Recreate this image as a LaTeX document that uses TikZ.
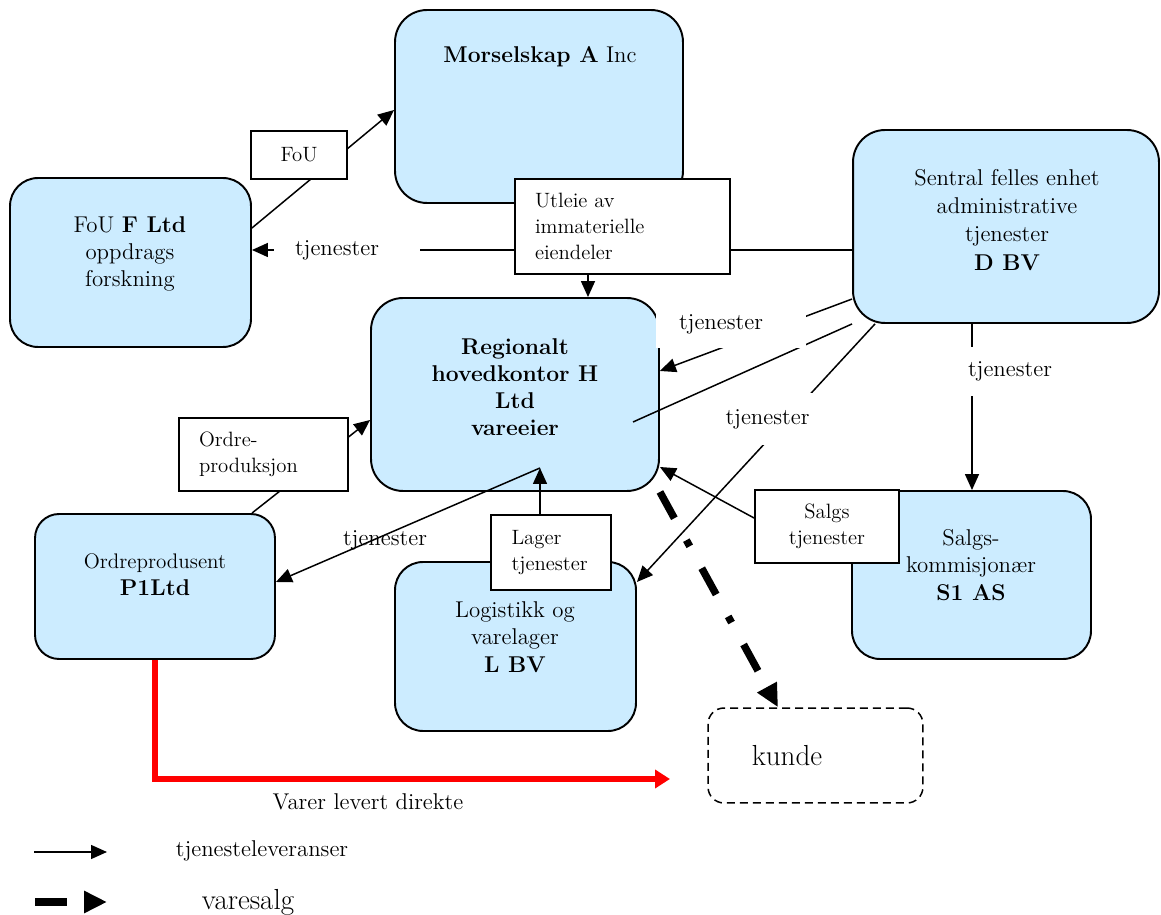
\documentclass[tikz,border=0pt]{standalone}
\usetikzlibrary{arrows.meta}
\definecolor{boxblue}{RGB}{204,236,255}
\pgfdeclarelayer{back}
\pgfdeclarelayer{mid}
\pgfsetlayers{back,mid,main}
\begin{document}
\begin{tikzpicture}[x=0.02cm,y=-0.02cm,
  org/.style={draw, fill=boxblue, line width=1.1pt, inner sep=0pt},
  lblbox/.style={draw, fill=white, line width=1.1pt, inner sep=0pt},
  bigfont/.style={font=\fontsize{13}{15.5}\selectfont},
  smallfont/.style={font=\fontsize{11.8}{14.8}\selectfont},
  hugefont/.style={font=\fontsize{16.5}{19}\selectfont},
  txt/.style={align=center, inner sep=0pt, bigfont},
  conn/.style={line width=0.85pt, -{Triangle[length=0.32cm,width=0.28cm]}},
  link/.style={line width=0.85pt},
  cutout/.style={fill=white, inner sep=0pt, bigfont},
  redarrow/.style={draw=red, line width=3pt, -{Triangle[length=0.3cm,width=0.36cm]}},
  sale/.style={line width=4.2pt, dash pattern=on 0.6cm off 0.5cm on 0.14cm off 0.5cm,
    -{Triangle[length=0.46cm,width=0.42cm]}},
  salelegend/.style={line width=4.5pt, dash pattern=on 0.64cm off 2cm,
    -{Triangle[length=0.46cm,width=0.42cm]}},
]
\useasboundingbox (0,0) rectangle (1161,915);

% organisation boxes
\begin{pgfonlayer}{back}
\node[org, rounded corners=0.56cm, minimum width=4.82cm, minimum height=3.38cm] (fouf) at (130.5,262.5) {};
\node[org, rounded corners=0.64cm, minimum width=5.76cm, minimum height=3.86cm] (mors) at (539,106.5) {};
\node[org, rounded corners=0.64cm, minimum width=5.76cm, minimum height=3.86cm] (H) at (515,394.5) {};
\node[org, rounded corners=0.64cm, minimum width=6.12cm, minimum height=3.86cm] (dbv) at (1006,226.5) {};
\node[org, rounded corners=0.48cm, minimum width=4.8cm, minimum height=2.9cm] (p1) at (155,586.5) {};
\node[org, rounded corners=0.56cm, minimum width=4.82cm, minimum height=3.38cm] (lbv) at (515.5,646.5) {};
\node[org, rounded corners=0.56cm, minimum width=4.78cm, minimum height=3.36cm] (s1) at (971.5,575) {};
\node[draw, dash pattern=on 0.16cm off 0.1cm, line width=0.85pt, rounded corners=0.32cm,
  minimum width=4.3cm, minimum height=1.9cm, inner sep=0pt] (kunde) at (815.5,755.5) {};
\end{pgfonlayer}

% label boxes
\node[lblbox, smallfont, minimum width=1.92cm, minimum height=0.96cm] (foulbl) at (299,155) {FoU};
\node[lblbox, smallfont, minimum width=4.3cm, minimum height=1.9cm, text width=3.5cm, align=left] (utleie) at (622.5,226.5) {Utleie av\\immaterielle\\eiendeler};
\node[lblbox, smallfont, minimum width=3.38cm, minimum height=1.46cm, text width=2.58cm, align=left] (ordlbl) at (263.5,454.5) {Ordre-\\produksjon};
\node[lblbox, smallfont, minimum width=2.4cm, minimum height=1.5cm, text width=1.58cm, align=left] (lager) at (551,552.5) {Lager\\tjenester};
\node[lblbox, smallfont, minimum width=2.88cm, minimum height=1.46cm, align=center] (salgs) at (827,526.5) {Salgs\\tjenester};

% free ends
\coordinate (dpa) at (633,422);
\coordinate (dpb) at (540,468);
\coordinate (redend) at (670,779);
\coordinate (lg1a) at (34,852);
\coordinate (lg1b) at (107,852);
\coordinate (lg2a) at (35,902);
\coordinate (lg2b) at (107,902);

% connectors
\begin{pgfonlayer}{mid}
\draw[conn] (fouf.east |- 0,228) -- (mors.west |- 0,110);
\draw[conn] (dbv.west |- 0,250) -- (fouf.east |- 0,250);
\draw[conn] (utleie.south -| 588,0) -- (H.north -| 588,0);
\draw[conn] (dbv.west |- 0,299) -- (H.east |- 0,371);
\draw[link] (dbv.south west) -- (dpa);
\draw[conn] (dpb) -- (p1.east |- 0,582);
\draw[conn] (dbv.south -| 875,0) -- (lbv.east |- 0,582);
\draw[conn] (dbv.south -| 972,0) -- (s1.north -| 972,0);
\draw[conn] (salgs.west |- 0,518) -- (H.east |- 0,467);
\draw[conn] (p1.north -| 252,0) -- (H.west |- 0,420);
\draw[conn] (lager.north -| 540,0) -- (dpb);
\draw[redarrow] (p1.south) |- (redend);
\draw[sale] (H.south east) -- (kunde.north -| 778,0);
\draw[conn] (lg1a) -- (lg1b);
\draw[salelegend] (lg2a) -- (lg2b);
\end{pgfonlayer}

% connector labels
\node[cutout, minimum height=0.5cm] (l-df) at (347,250) {\makebox[2.92cm][l]{\hspace{0.42cm}tjenester}};
\node[cutout, minimum height=0.96cm] (l-dh) at (731,324) {\makebox[3cm][l]{\hspace{0.46cm}tjenester}};
\node[cutout, minimum width=1.9cm, minimum height=1.04cm] (l-dl) at (767.5,419) {tjenester};
\node[cutout, minimum width=2.2cm, minimum height=0.98cm] (l-ds) at (1010,371.5) {tjenester};
\node[txt] (l-dp) at (385,540) {tjenester};

% box texts
\node[txt] (t-mors) at (540,57) {\textbf{Morselskap A} Inc};
\node[txt] (t-fouf) at (130,254) {FoU \textbf{F Ltd}\\oppdrags\\forskning};
\node[txt, font=\fontsize{13}{15.5}\selectfont\bfseries] (t-H) at (515,387) {Regionalt\\hovedkontor H\\Ltd\\vareeier};
\node[txt, font=\fontsize{13}{16}\selectfont] (t-dbv) at (1007,220) {Sentral felles enhet\\administrative\\tjenester\\\textbf{D BV}};
\node[txt] (t-p1) at (155,575) {{\fontsize{12}{15}\selectfont Ordreprodusent}\\\textbf{P1Ltd}};
\node[txt] (t-lbv) at (515,637) {Logistikk og\\varelager\\\textbf{L BV}};
\node[txt] (t-s1) at (971,565) {Salgs-\\kommisjonær\\\textbf{S1 AS}};
\node[txt, hugefont] (t-kunde) at (787,756) {kunde};
\node[txt] (t-varer) at (368,802) {Varer levert direkte};
\node[txt] (t-leg1) at (262,851) {tjenesteleveranser};
\node[txt, hugefont] (t-leg2) at (248,902) {varesalg};
\end{tikzpicture}
\end{document}
